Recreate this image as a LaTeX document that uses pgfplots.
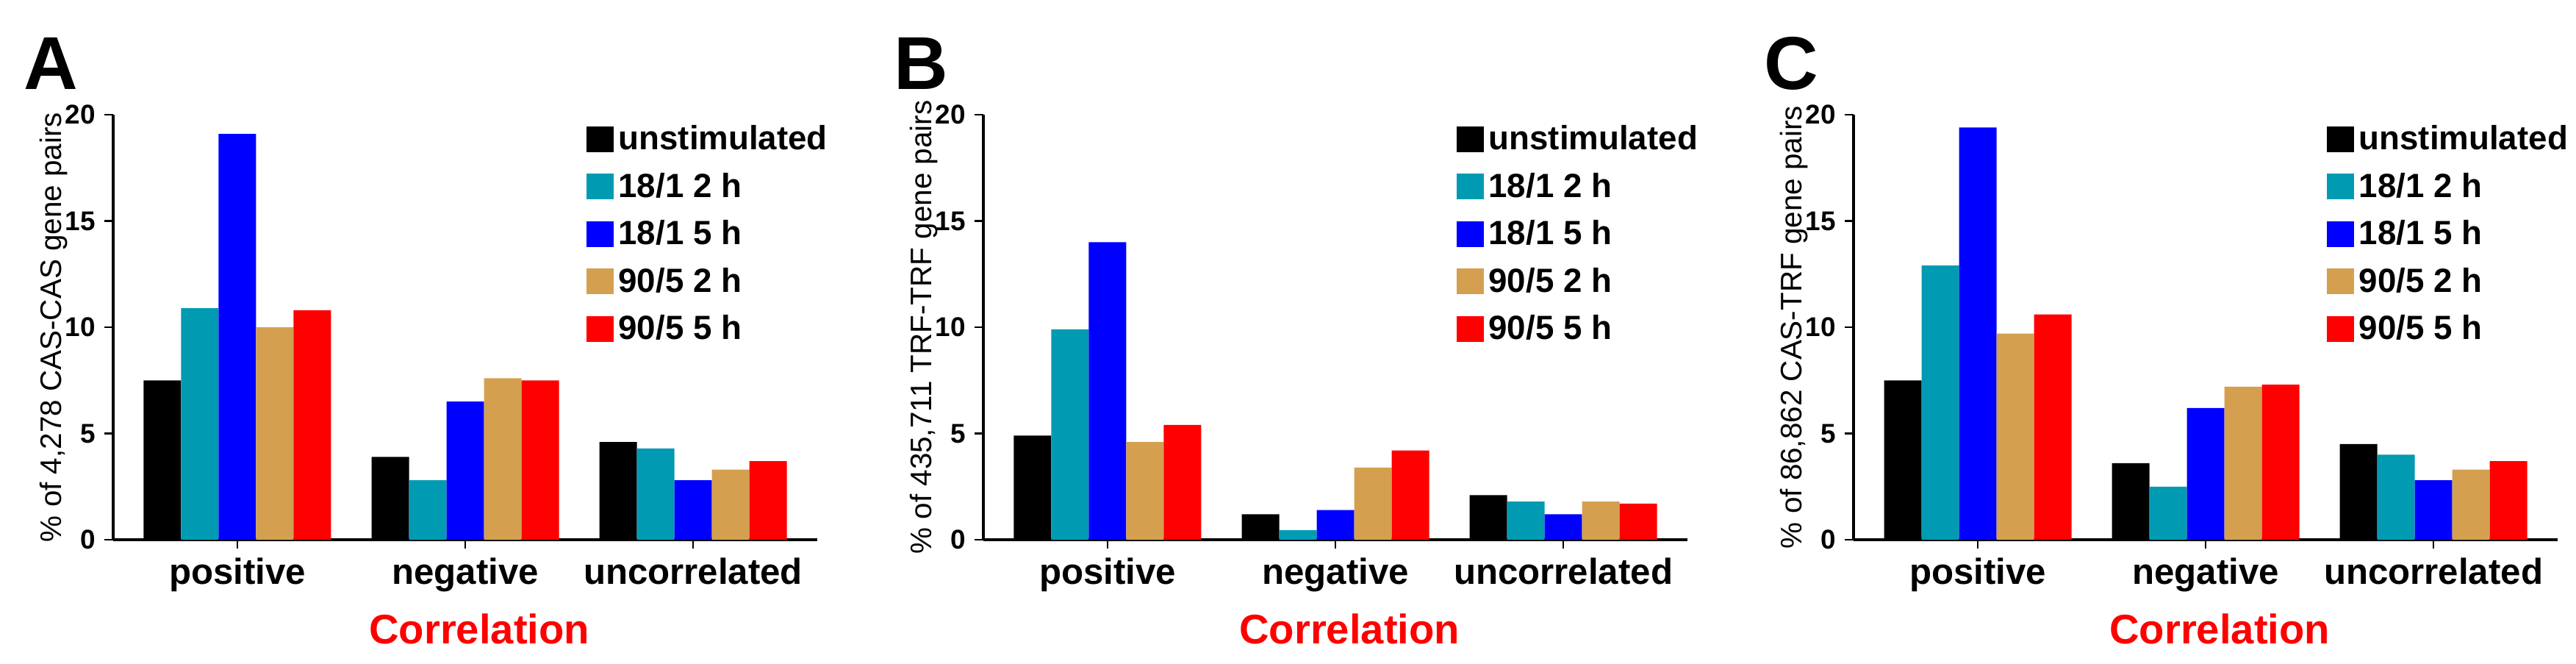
\documentclass[border=0pt]{standalone}
\usepackage{pgfplots}
\pgfplotsset{compat=1.18}
\usepackage{fontspec}
\setmainfont{Liberation Sans}
\definecolor{cteal}{RGB}{0,155,178}
\definecolor{cblue}{RGB}{0,0,255}
\definecolor{ctan}{RGB}{212,160,80}
\definecolor{cred}{RGB}{255,0,0}
\pgfplotsset{
  panel/.style={scale only axis, width=95.8mm, height=57.8mm, clip=false,
    ymin=0, ymax=20, xmin=-0.545, xmax=2.545,
    axis x line*=bottom, axis y line*=left,
    axis line style={line width=1pt},
    ytick={0,5,10,15,20}, xtick={0,1,2},
    xticklabels={positive,negative,uncorrelated},
    ybar=0pt, bar width=5.1mm,
    tick align=outside, major tick length=1.2mm,
    tick style={line width=0.8pt, black},
    /pgf/number format/assume math mode=true,
    yticklabel style={font=\bfseries\fontsize{10.5}{12}\selectfont},
    xticklabel style={font=\bfseries\fontsize{14}{16}\selectfont},
    xlabel={Correlation},
    xlabel style={at={(axis description cs:0.52,-0.21)}, anchor=center, text=cred, font=\bfseries\fontsize{16}{18}\selectfont},
    ylabel style={at={(axis description cs:-0.085,0.5)}, anchor=center, font=\fontsize{11.5}{13}\selectfont},
    legend style={at={(0.66,1.0)}, anchor=north west, draw=none, fill=none,
      font=\bfseries\fontsize{13}{14}\selectfont, row sep=1.2mm},
    legend cell align=left,
    legend image code/.code={\fill[#1] (0mm,-1.7mm) rectangle (3.7mm,1.8mm);},
    every axis plot/.append style={draw=none},
  }
}
\newcommand{\legendentries}{\legend{unstimulated,18/1 2 h,18/1 5 h,90/5 2 h,90/5 5 h}}
\newcommand{\panelletter}[1]{\node[font=\bfseries\fontsize{29}{30}\selectfont] at (axis description cs:-0.088,1.12) {#1};}
\begin{document}
\begin{tikzpicture}
\useasboundingbox (-15.4mm,-16.8mm) rectangle (335.1mm,73.4mm);
\begin{axis}[panel, at={(0mm,0mm)}, ylabel={\% of 4,278 CAS-CAS gene pairs}]
\addplot[fill=black] coordinates {(0,7.5) (1,3.9) (2,4.6)};
\addplot[fill=cteal] coordinates {(0,10.9) (1,2.8) (2,4.3)};
\addplot[fill=cblue] coordinates {(0,19.1) (1,6.5) (2,2.8)};
\addplot[fill=ctan] coordinates {(0,10.0) (1,7.6) (2,3.3)};
\addplot[fill=cred] coordinates {(0,10.8) (1,7.5) (2,3.7)};
\legendentries
\panelletter{A}
\end{axis}
\begin{axis}[panel, at={(118.4mm,0mm)}, ylabel={\% of 435,711 TRF-TRF gene pairs}]
\addplot[fill=black] coordinates {(0,4.9) (1,1.2) (2,2.1)};
\addplot[fill=cteal] coordinates {(0,9.9) (1,0.45) (2,1.8)};
\addplot[fill=cblue] coordinates {(0,14.0) (1,1.4) (2,1.2)};
\addplot[fill=ctan] coordinates {(0,4.6) (1,3.4) (2,1.8)};
\addplot[fill=cred] coordinates {(0,5.4) (1,4.2) (2,1.7)};
\legendentries
\panelletter{B}
\end{axis}
\begin{axis}[panel, at={(236.8mm,0mm)}, ylabel={\% of 86,862 CAS-TRF gene pairs}]
\addplot[fill=black] coordinates {(0,7.5) (1,3.6) (2,4.5)};
\addplot[fill=cteal] coordinates {(0,12.9) (1,2.5) (2,4.0)};
\addplot[fill=cblue] coordinates {(0,19.4) (1,6.2) (2,2.8)};
\addplot[fill=ctan] coordinates {(0,9.7) (1,7.2) (2,3.3)};
\addplot[fill=cred] coordinates {(0,10.6) (1,7.3) (2,3.7)};
\legendentries
\panelletter{C}
\end{axis}
\end{tikzpicture}
\end{document}
